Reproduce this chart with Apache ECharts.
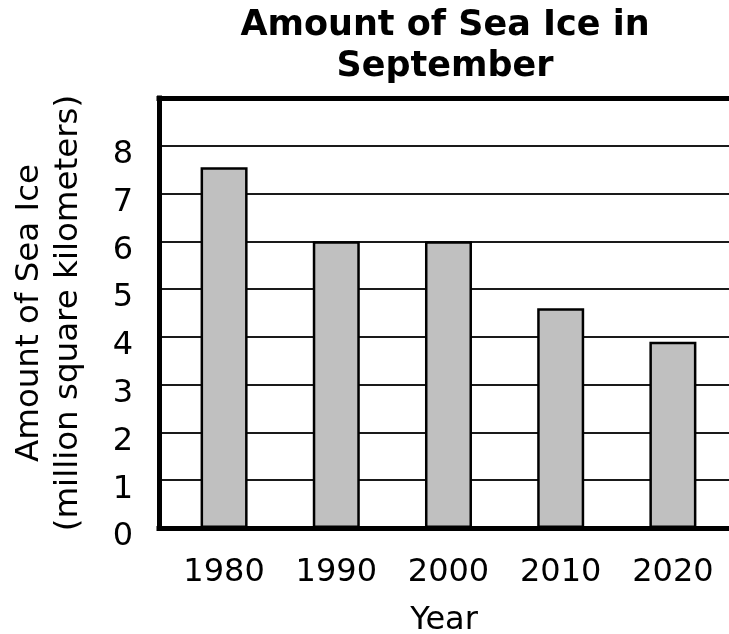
<!DOCTYPE html>
<html>
<head>
<meta charset="utf-8">
<style>
  html, body { margin: 0; padding: 0; background: #fff; }
  #chart { width: 729px; height: 634px; }
</style>
<script src="https://cdn.jsdelivr.net/npm/echarts@6/dist/echarts.min.js"></script>
</head>
<body>
<div id="chart"></div>
<script>
// September sea ice extent by decade (million square kilometers)
const years = [1980, 1990, 2000, 2010, 2020];
const seaIce = [7.55, 6.0, 6.0, 4.6, 3.9];
const yTicks = [0, 1, 2, 3, 4, 5, 6, 7, 8];

const FONT = "'DejaVu Sans', Verdana, sans-serif";
const frame = { show: true, lineStyle: { color: '#000', width: 5, cap: 'square' } };

const chart = echarts.init(document.getElementById('chart'), null, { renderer: 'canvas' });

chart.setOption({
  animation: false,
  backgroundColor: '#fff',
  title: {
    text: 'Amount of Sea Ice in\nSeptember',
    left: 445,
    top: 5,
    padding: 0,
    textAlign: 'center',
    textStyle: { fontFamily: FONT, fontWeight: 'bold', fontSize: 35, lineHeight: 41, color: '#000' }
  },
  grid: { left: 159, right: 0, top: 98, bottom: 106, containLabel: false, outerBoundsMode: 'none' },
  xAxis: [{
    type: 'value',
    min: 1974.2,
    max: 2025,
    name: 'Year',
    nameLocation: 'middle',
    nameGap: 77,
    nameTextStyle: { fontFamily: FONT, fontSize: 32, color: '#000' },
    axisLine: frame,
    axisTick: { show: false },
    splitLine: { show: false },
    axisLabel: {
      customValues: years,
      margin: 29,
      fontFamily: FONT, fontSize: 32, color: '#000',
      formatter: v => String(v)
    }
  }, {
    type: 'value',
    position: 'top',
    min: 1974.2,
    max: 2025,
    axisLine: frame,
    axisTick: { show: false },
    axisLabel: { show: false },
    splitLine: { show: false }
  }],
  yAxis: {
    type: 'value',
    min: 0,
    max: 9,
    interval: 1,
    name: 'Amount of Sea Ice\n(million square kilometers)',
    nameLocation: 'middle',
    nameGap: 71,
    nameTextStyle: { fontFamily: FONT, fontSize: 32.5, lineHeight: 39, color: '#000' },
    axisLine: frame,
    axisTick: { show: false },
    axisLabel: {
      margin: 26,
      verticalAlign: 'top',
      lineHeight: 18,
      fontFamily: FONT, fontSize: 32, color: '#000',
      formatter: v => (yTicks.indexOf(v) >= 0 ? String(v) : '')
    },
    splitLine: { show: true, lineStyle: { color: '#1a1a1a', width: 2 } }
  },
  series: [{
    type: 'bar',
    data: years.map((y, i) => [y, seaIce[i]]),
    barWidth: 47,
    itemStyle: { color: '#c0c0c0', borderColor: '#000', borderWidth: 2.5 },
    emphasis: { disabled: true }
  }]
});
</script>
</body>
</html>
